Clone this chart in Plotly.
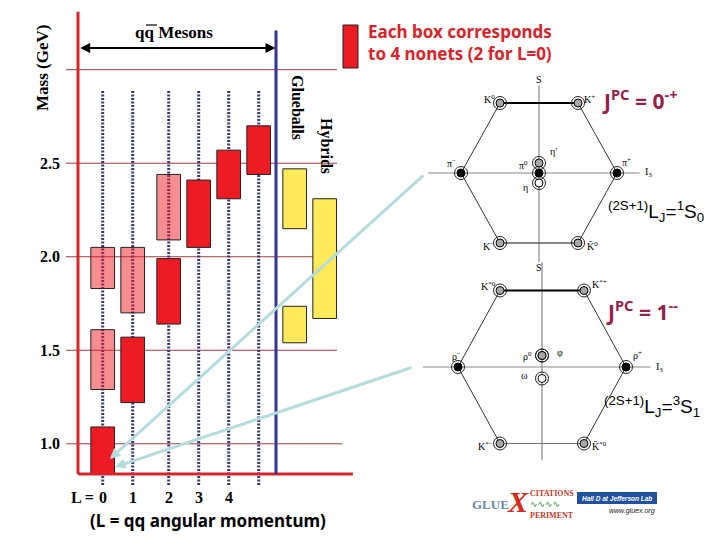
import math
import plotly.graph_objects as go

# ---------------- data ----------------
mass_grid = [1.0, 1.5, 2.0, 2.5, 3.0]
mass_tick_labels = ["1.0", "1.5", "2.0", "2.5", ""]
L_labels = ["0", "1", "2", "3", "4"]

meson_col = [0, 0, 0, 1, 1, 2, 2, 3, 4, 5]
meson_lo = [1.83, 1.29, 0.84, 1.70, 1.22, 2.09, 1.64, 2.05, 2.31, 2.44]
meson_hi = [2.05, 1.61, 1.09, 2.05, 1.57, 2.44, 1.99, 2.41, 2.57, 2.70]
meson_shade = ["light", "light", "dark", "light", "dark", "light", "dark", "dark", "dark", "dark"]

glueball_lo = [2.15, 1.54]
glueball_hi = [2.47, 1.735]
hybrid_lo = [1.67]
hybrid_hi = [2.31]

ps_names = ["K<sup>0</sup>", "K<sup>+</sup>", "π<sup>−</sup>", "π<sup>0</sup>", "π<sup>+</sup>",
            "K<sup>−</sup>", "K\u0304<sup>0</sup>", "η′", "η"]
ps_I3 = [-0.5, 0.5, -1, 0, 1, -0.5, 0.5, 0, 0]
ps_S = [1, 1, 0, 0, 0, -1, -1, 0, 0]
ps_fill = ["#a8a8a8", "#a8a8a8", "black", "black", "black", "#a8a8a8", "#a8a8a8", "#a8a8a8", "white"]

v_names = ["K<sup>*0</sup>", "K<sup>*+</sup>", "ρ<sup>−</sup>", "ρ<sup>0</sup>", "ρ<sup>+</sup>",
           "K<sup>*−</sup>", "K\u0304<sup>*0</sup>", "φ", "ω"]
v_I3 = [-0.5, 0.5, -1, 0, 1, -0.5, 0.5, 0, 0]
v_S = [1, 1, 0, 0, 0, -1, -1, 0, 0]
v_fill = ["#a8a8a8", "#a8a8a8", "black", "black", "black", "#a8a8a8", "#a8a8a8", "#a8a8a8", "white"]

# ---------------- layout constants ----------------
OFF = 8                      # page body margin
W, H = 720 - OFF, 540 - OFF
def P(xpx):
    return (xpx - OFF) / W
def Q(ypx):
    return 1 - (ypx - OFF) / H

X0_PX, PX_PER_COL = 102.7, 30.0
col_x = [0, 1, 2.2, 3.2, 4.2, 5.2]
glue_x, hyb_x = 6.4, 7.4
BOX_W = 0.79
MID_PX, MID_M, PX_PER_GEV = 303.5, 1.75, 187.04
Y_TOP = MID_M + (MID_PX - OFF) / PX_PER_GEV
Y_BOT = MID_M - (540 - MID_PX) / PX_PER_GEV

RED = "#ED1C24"
PINK = "rgba(237,28,36,0.5)"
YELLOW = "#FFEA5C"
AXRED = "#D6262C"
BLUE = "#333399"
GRID = "#A23A44"
SERIF = "Liberation Serif"
COMIC = "Comic Sans MS, Noto Sans"

fig = go.Figure()

# boxes (bars with base)
fig.add_trace(go.Bar(
    x=[col_x[c] for c in meson_col],
    y=[h - l for l, h in zip(meson_lo, meson_hi)],
    base=meson_lo, width=BOX_W,
    marker=dict(color=[PINK if s == "light" else RED for s in meson_shade],
                line=dict(color="#222", width=1)),
    hoverinfo="skip", showlegend=False))
fig.add_trace(go.Bar(
    x=[glue_x] * len(glueball_lo) + [hyb_x] * len(hybrid_lo),
    y=[h - l for l, h in zip(glueball_lo + hybrid_lo, glueball_hi + hybrid_hi)],
    base=glueball_lo + hybrid_lo, width=BOX_W,
    marker=dict(color=YELLOW, line=dict(color="#222", width=1)),
    hoverinfo="skip", showlegend=False))

shapes = []
annotations = []


def ann(**kw):
    kw.setdefault("showarrow", False)
    kw.setdefault("xanchor", "center")
    kw.setdefault("yanchor", "middle")
    annotations.append(kw)


# gridlines
for m in mass_grid:
    shapes.append(dict(type="line", xref="x", yref="y", x0=-1.223, x1=(8.0 if m == 1.0 else 7.81),
                       y0=m, y1=m, line=dict(color=GRID, width=1), layer="below"))
# dotted lines
for cx in col_x:
    shapes.append(dict(type="line", xref="x", yref="y", x0=cx, x1=cx, y0=0.78, y1=2.892,
                       line=dict(color="#3a3a78", width=3, dash="2px,1.5px"), layer="below"))
# axes
shapes.append(dict(type="line", xref="x", yref="y", x0=-0.823, x1=-0.823, y0=0.838, y1=3.31,
                   line=dict(color=AXRED, width=3)))
shapes.append(dict(type="line", xref="x", yref="y", x0=-0.823, x1=8.34, y0=0.838, y1=0.838,
                   line=dict(color=AXRED, width=3)))
shapes.append(dict(type="line", xref="x", yref="y", x0=5.777, x1=5.777, y0=0.838, y1=3.21,
                   line=dict(color=BLUE, width=3)))
# legend box
shapes.append(dict(type="rect", xref="paper", yref="paper", x0=P(343), x1=P(358), y0=Q(68), y1=Q(25),
                   fillcolor=RED, line=dict(color="#222", width=1)))
# Hall D logo box
shapes.append(dict(type="rect", xref="paper", yref="paper", x0=P(577), x1=P(657), y0=Q(504), y1=Q(492),
                   fillcolor="#2150A0", line=dict(width=0)))
# overline of anti-quark
shapes.append(dict(type="line", xref="paper", yref="paper", x0=P(146), x1=P(157), y0=Q(25), y1=Q(25),
                   line=dict(color="black", width=1.2)))

# tick labels
for m, t in zip(mass_grid, mass_tick_labels):
    if t:
        ann(x=-1.357, y=m, xref="x", yref="y", text="<b>%s</b>" % t, xanchor="right",
            font=dict(family=SERIF, size=16, color="black"))
# L labels
ann(x=P(96), y=Q(497), xref="paper", yref="paper", text="<b>L =</b>", xanchor="right",
    font=dict(family=SERIF, size=16, color="black"))
for cx, t in zip(col_x, L_labels):
    ann(x=cx, y=Q(497), xref="x", yref="paper", text="<b>%s</b>" % t,
        font=dict(family=SERIF, size=16, color="black"))
ann(x=P(208), y=Q(520), xref="paper", yref="paper", text="<b>(L = qq angular momentum)</b>",
    font=dict(family=COMIC, size=17, color="black"))
ann(x=P(43), y=Q(68), xref="paper", yref="paper", text="<b>Mass (GeV)</b>", textangle=-90,
    font=dict(family=SERIF, size=17, color="black"))
ann(x=P(174), y=Q(33), xref="paper", yref="paper", text="<b>qq Mesons</b>",
    font=dict(family=SERIF, size=17, color="black"))
ann(x=P(297), y=Q(107), xref="paper", yref="paper", text="<b>Glueballs</b>", textangle=90,
    font=dict(family=SERIF, size=16, color="black"))
ann(x=P(326), y=Q(146), xref="paper", yref="paper", text="<b>Hybrids</b>", textangle=90,
    font=dict(family=SERIF, size=16, color="black"))
# double-headed arrow
annotations.append(dict(x=5.76, y=3.116, xref="x", yref="y", ax=-0.80, ay=3.116, axref="x", ayref="y",
                        text="", showarrow=True, arrowside="end+start", arrowhead=2, startarrowhead=2,
                        arrowwidth=2, arrowsize=1, startarrowsize=1, arrowcolor="black"))
# red note
ann(x=P(366), y=Q(43), xref="paper", yref="paper", xanchor="left", align="left",
    text="<b>Each box corresponds<br>to 4 nonets (2 for L=0)</b>",
    font=dict(family=COMIC, size=17, color="#D8232A"))
# light blue arrows to ground-state box
annotations.append(dict(x=0.24, y=0.919, xref="x", yref="y", ax=315, ay=-285, text="", showarrow=True,
                        arrowhead=2, arrowwidth=3, arrowsize=0.7, arrowcolor="#B4DCDC"))
annotations.append(dict(x=0.41, y=0.876, xref="x", yref="y", ax=298, ay=-100, text="", showarrow=True,
                        arrowhead=2, arrowwidth=3, arrowsize=0.7, arrowcolor="#B4DCDC"))


def nonet(xa, ya, names, I3, S, fills, step, dx, dy, stack, hline, vline, slabels):
    ys = [s + st * step for s, st in zip(S, stack)]
    verts = [i for i in range(len(I3)) if not (I3[i] == 0 and S[i] == 0)]
    verts.sort(key=lambda i: math.atan2(S[i], I3[i]))
    loop = verts + [verts[0]]
    shapes.append(dict(type="line", xref=xa, yref=ya, x0=hline[0], x1=hline[1], y0=0, y1=0,
                       line=dict(color="#888", width=1.2), layer="below"))
    shapes.append(dict(type="line", xref=xa, yref=ya, x0=0, x1=0, y0=vline[0], y1=vline[1],
                       line=dict(color="#888", width=1.2), layer="below"))
    fig.add_trace(go.Scatter(x=[I3[i] for i in loop], y=[S[i] for i in loop], mode="lines",
                             line=dict(color="#333", width=1), xaxis=xa, yaxis=ya,
                             hoverinfo="skip", showlegend=False))
    top = [i for i in verts if S[i] == 1]
    fig.add_trace(go.Scatter(x=[I3[i] for i in top], y=[S[i] for i in top], mode="lines",
                             line=dict(color="black", width=2), xaxis=xa, yaxis=ya,
                             hoverinfo="skip", showlegend=False))
    bot = [i for i in verts if S[i] == -1]
    fig.add_trace(go.Scatter(x=[I3[i] for i in bot], y=[S[i] for i in bot], mode="lines",
                             line=dict(color="#777", width=1.2), xaxis=xa, yaxis=ya,
                             hoverinfo="skip", showlegend=False))
    fig.add_trace(go.Scatter(x=I3, y=ys, mode="markers",
                             marker=dict(symbol="circle-open", size=13, color="#222", line=dict(width=1)),
                             xaxis=xa, yaxis=ya, hoverinfo="skip", showlegend=False))
    fig.add_trace(go.Scatter(x=I3, y=ys, mode="markers",
                             marker=dict(symbol="circle", size=8, color=fills, line=dict(color="black", width=1)),
                             xaxis=xa, yaxis=ya, hoverinfo="skip", showlegend=False))
    for n, x, y, ddx, ddy in zip(names, I3, ys, dx, dy):
        ann(x=x, y=y, xref=xa, yref=ya, xshift=ddx, yshift=ddy, text=n,
            font=dict(family=SERIF, size=10, color="black"))
    for (sy, syshift) in slabels:
        ann(x=0, y=sy, xref=xa, yref=ya, yshift=syshift, text="S",
            font=dict(family=SERIF, size=10, color="black"))
    ann(x=hline[1], y=0, xref=xa, yref=ya, xshift=9, text="I<sub>3</sub>",
        font=dict(family=SERIF, size=10, color="black"))


nonet("x2", "y2", ps_names, ps_I3, ps_S, ps_fill, 0.143,
      dx=[-11, 11, -10, -16, 9, -12, 14, 14, -14], dy=[4, 4, 10, 8, 11, -3, -3, 11, -4],
      stack=[0, 0, 0, 0, 0, 0, 0, 1, -1], hline=(-1.42, 1.29), vline=(-1.27, 1.25),
      slabels=[(1.25, 6), (-1.27, -6)])
nonet("x3", "y3", v_names, v_I3, v_S, v_fill, 0.15,
      dx=[-11, 15, -1, -15, 11, -14, 15, 18, -18], dy=[5, 7, 11, 0, 12, -2, -2, 3, 3],
      stack=[0, 0, 0, 1, 0, 0, 0, 1, -1], hline=(-1.42, 1.29), vline=(-1.22, 1.37),
      slabels=[])

# spectroscopic labels
ann(x=P(600), y=Q(100), xref="paper", yref="paper", xanchor="left",
    text="<b>J<sup>PC</sup> = 0<sup>-+</sup></b>", font=dict(family=COMIC, size=21, color="#93234B"))
ann(x=P(604), y=Q(310), xref="paper", yref="paper", xanchor="left",
    text="<b>J<sup>PC</sup> = 1<sup>--</sup></b>", font=dict(family=COMIC, size=21, color="#93234B"))
ann(x=P(606), y=Q(212), xref="paper", yref="paper", xanchor="left",
    text="<sup>(2S+1)</sup>L<sub>J</sub>=<sup>1</sup>S<sub>0</sub>",
    font=dict(family="Liberation Sans", size=19, color="black"))
ann(x=P(602), y=Q(406), xref="paper", yref="paper", xanchor="left",
    text="<sup>(2S+1)</sup>L<sub>J</sub>=<sup>3</sup>S<sub>1</sub>",
    font=dict(family="Liberation Sans", size=19, color="black"))

# logos (approximate)
ann(x=P(490), y=Q(504), xref="paper", yref="paper", text="<b>GLUE</b>",
    font=dict(family=SERIF, size=13, color="#6A8AA8"))
ann(x=P(518), y=Q(501), xref="paper", yref="paper", text="<b><i>X</i></b>",
    font=dict(family=SERIF, size=30, color="#D42A20"))
ann(x=P(528), y=Q(493), xref="paper", yref="paper", xanchor="left", text="<b>CITATIONS</b>",
    font=dict(family=SERIF, size=8, color="#C0392B"))
ann(x=P(528), y=Q(504), xref="paper", yref="paper", xanchor="left", text="∿∿∿∿",
    font=dict(family="DejaVu Sans", size=9, color="#3C8A3C"))
ann(x=P(528), y=Q(515), xref="paper", yref="paper", xanchor="left", text="<b>PERIMENT</b>",
    font=dict(family=SERIF, size=8, color="#C0392B"))
ann(x=P(617), y=Q(498), xref="paper", yref="paper", text="<b><i>Hall D at Jefferson Lab</i></b>",
    font=dict(family="Liberation Sans", size=6.5, color="white"))
ann(x=P(632), y=Q(511), xref="paper", yref="paper", text="<i>www.gluex.org</i>",
    font=dict(family="Liberation Sans", size=7, color="#222"))

fig.update_layout(
    width=W, height=H, margin=dict(l=0, r=0, t=0, b=0),
    paper_bgcolor="white", plot_bgcolor="rgba(0,0,0,0)",
    barmode="overlay", showlegend=False,
    xaxis=dict(domain=[0, 1], range=[(OFF - X0_PX) / PX_PER_COL, (720 - X0_PX) / PX_PER_COL], visible=False,
               anchor="y", fixedrange=True),
    yaxis=dict(domain=[0, 1], range=[Y_BOT, Y_TOP], visible=False, anchor="x", fixedrange=True),
    xaxis2=dict(domain=[P(422), P(656)], range=[-1.5, 1.5], visible=False, anchor="y2"),
    yaxis2=dict(domain=[Q(278), Q(68)], range=[-1.5, 1.5], visible=False, anchor="x2"),
    xaxis3=dict(domain=[P(416), P(668)], range=[-1.5, 1.5], visible=False, anchor="y3"),
    yaxis3=dict(domain=[Q(481.75), Q(252.25)], range=[-1.5, 1.5], visible=False, anchor="x3"),
    shapes=shapes, annotations=annotations,
)

fig.write_html("out.html")
